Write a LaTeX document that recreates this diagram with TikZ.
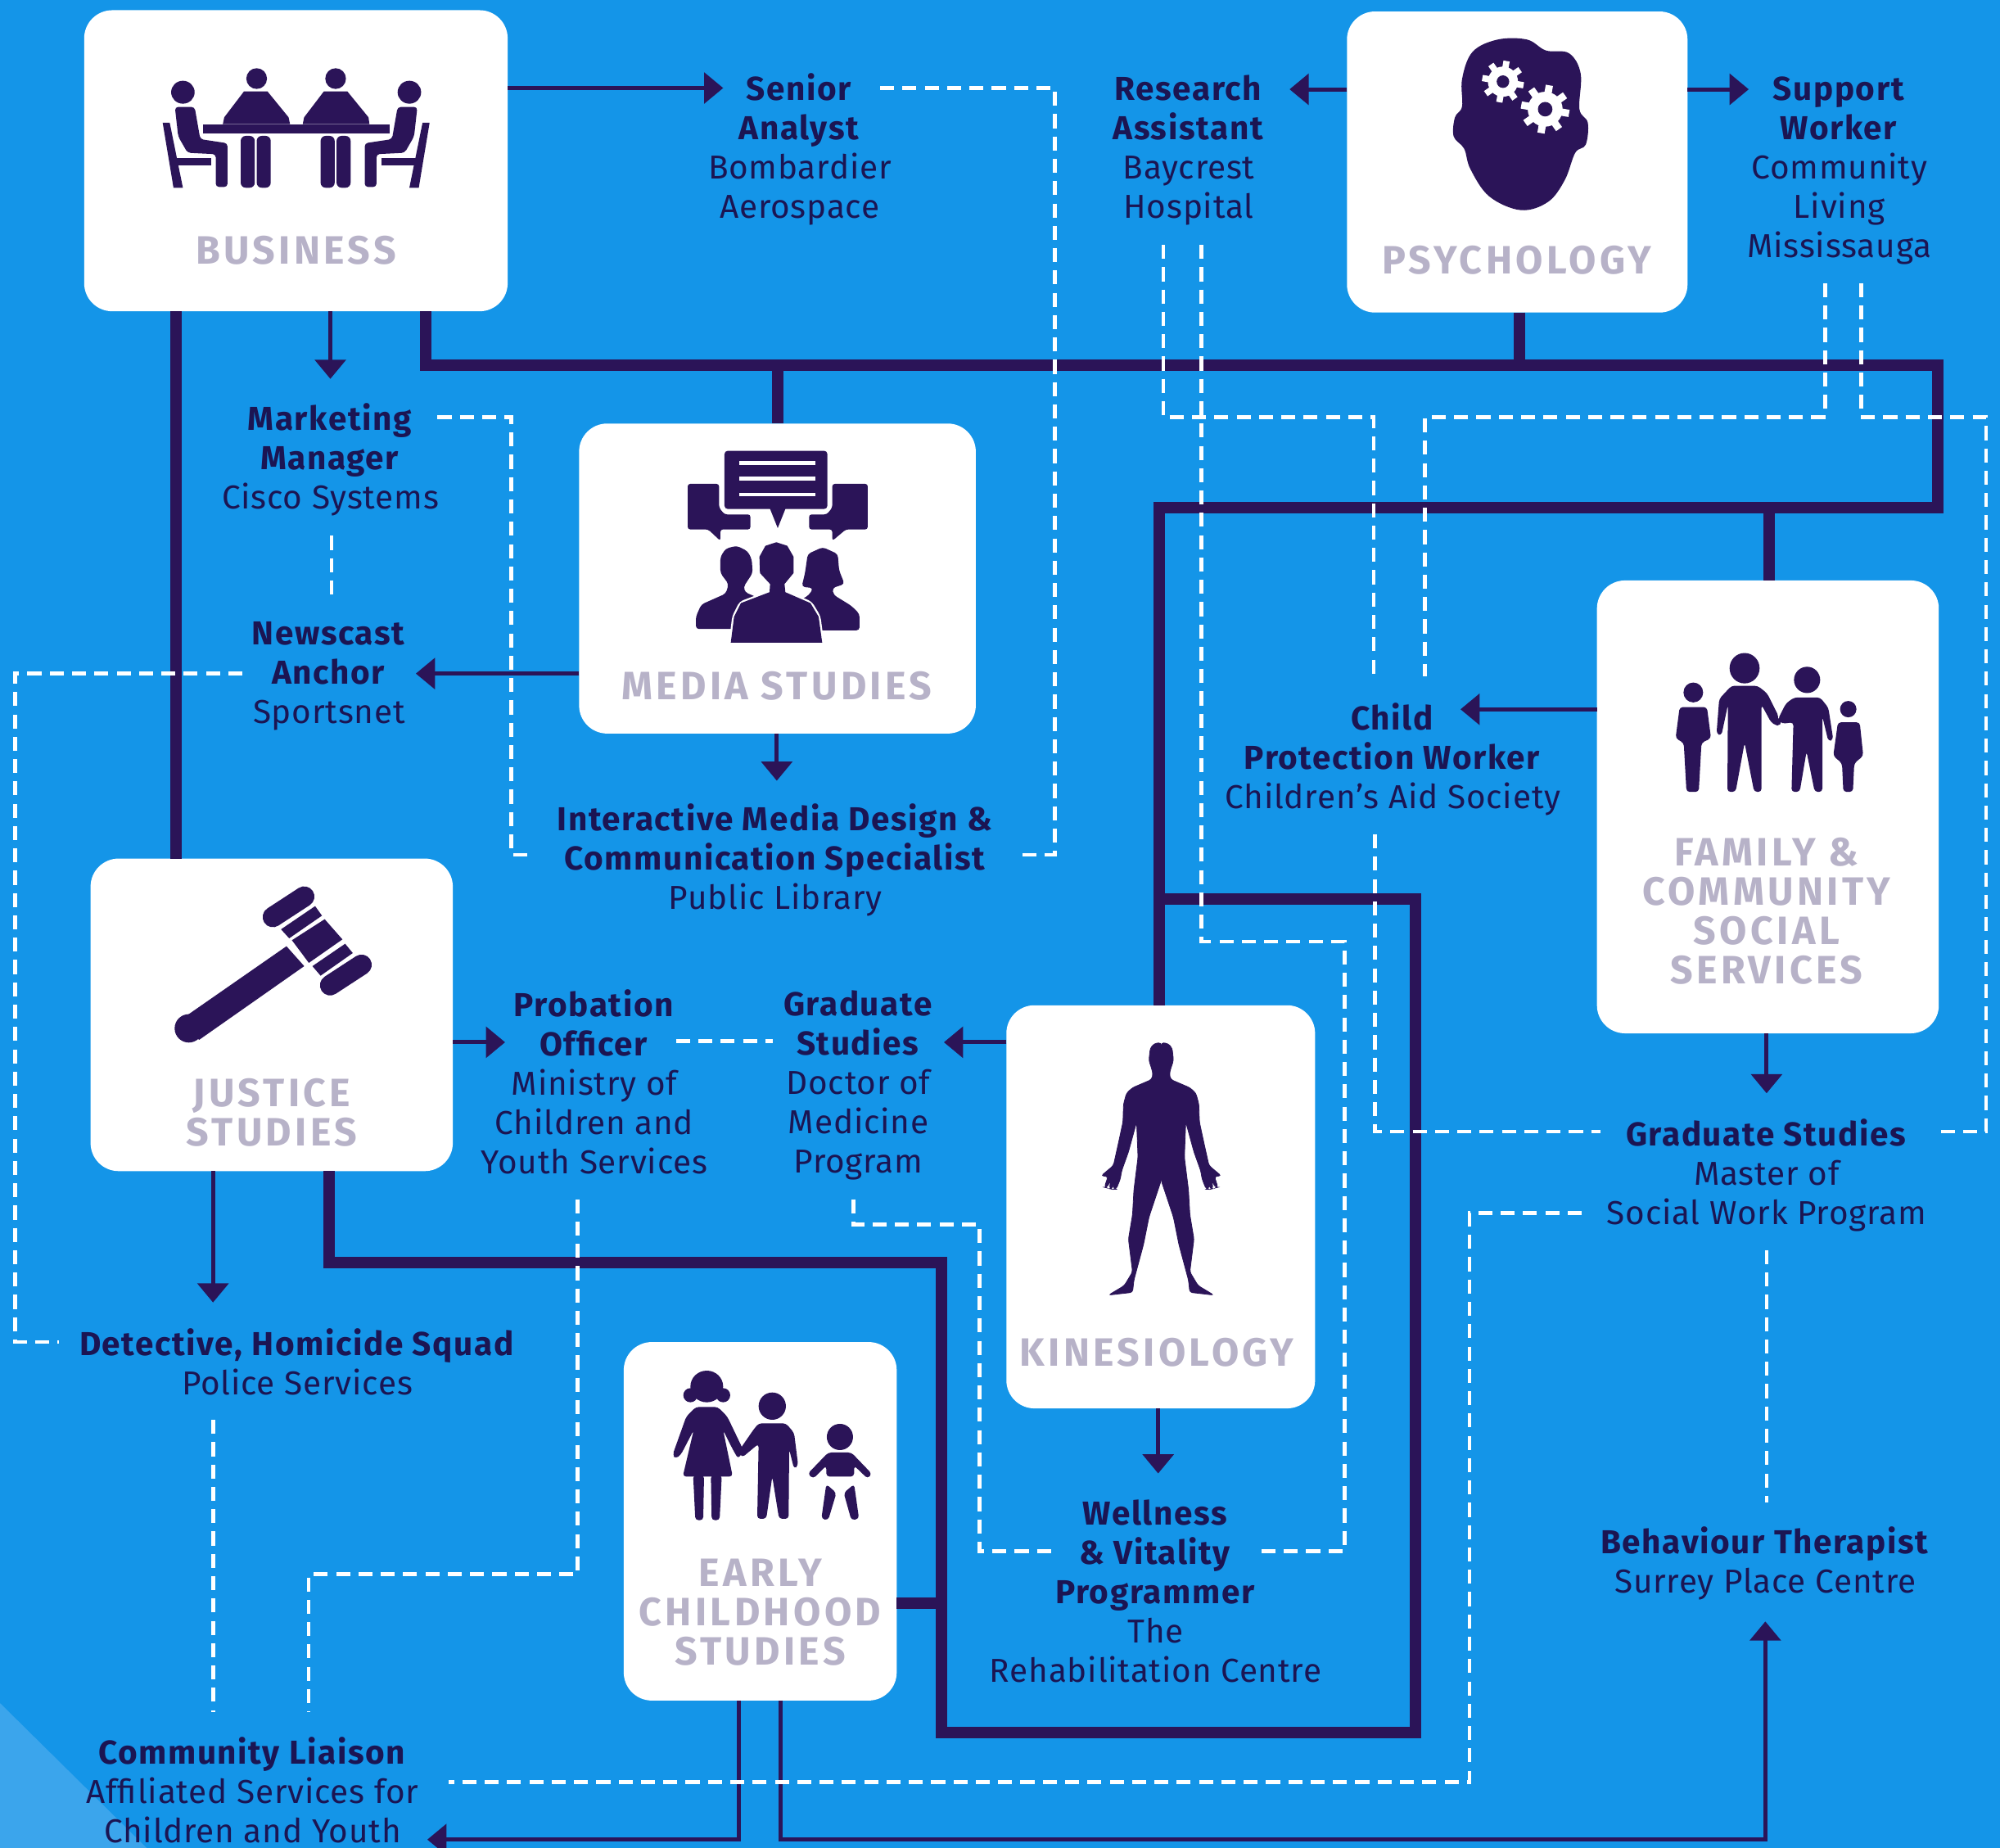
\documentclass[tikz,border=0pt]{standalone}
\usepackage{fontspec}
\setmainfont[LetterSpace=2,BoldFeatures={LetterSpace=4}]{Fira Sans}
\newfontfamily\boxf[LetterSpace=9]{Fira Sans}
\usetikzlibrary{arrows.meta}
\definecolor{bgblue}{HTML}{1495E8}
\definecolor{lightblue}{HTML}{3BA5EC}
\definecolor{ink}{HTML}{2B1458}
\definecolor{txt}{HTML}{1B1553}
\definecolor{boxlab}{HTML}{B7B2C8}
\tikzset{
  thickln/.style={ink,line width=9pt,line join=miter},
  thinln/.style={ink,line width=3.2pt,-{Triangle[length=15pt,width=24pt]}},
  dashln/.style={white,line width=3pt,dash pattern=on 11pt off 6.5pt},
  cardbox/.style={rectangle,fill=white,rounded corners=22pt,inner sep=0pt,outer sep=0pt},
  joblab/.style={align=center,text=txt,inner sep=0pt,font=\fontsize{26}{30.8}\selectfont},
  cardlab/.style={align=center,text=boxlab,inner sep=0pt,font=\boxf\bfseries\fontsize{31}{30.8}\selectfont},
  ico/.style={fill=ink,draw=none},
  icor/.style={fill=ink,draw=none,rounded corners=2.5pt},
}
\newcommand{\gearicon}[3]{%
  \begin{scope}[shift={(#1,#2)}]
    \fill[white] (0,0) circle (0.72*#3);
    \foreach \a in {10,55,...,325} \draw[white,line width=0.3*#3 pt] (\a:0.6*#3) -- (\a:#3);
    \fill[ink] (0,0) circle (0.3*#3);
  \end{scope}}
\newcommand{\bizside}{%
  \fill[ico] (215,338) ellipse [x radius=25,y radius=42];
  \fill[icor] (198,392) -- (240,392) -- (252,510) -- (310,525) -- (310,685) -- (285,685) -- (285,565) -- (225,560) -- (205,500) -- cycle;
  \fill[ico] (172,450) -- (187,450) -- (215,688) -- (195,688) -- cycle;
  \fill[ico] (200,580) rectangle (275,605);
}
\newcommand{\kinhalf}{%
  \fill[icor,rounded corners=2pt,draw=ink,line width=0.5pt] (595,160) -- (620,163) -- (635,180) -- (640,225) -- (630,255) -- (625,275) -- (630,295) -- (700,325) -- (722,345) -- (733,385) -- (735,450) -- (750,520) -- (770,610) -- (815,648) -- (790,650) -- (803,690) -- (795,692) -- (780,665) -- (785,695) -- (775,697) -- (768,668) -- (770,697) -- (760,697) -- (745,660) -- (740,630) -- (715,560) -- (685,450) -- (680,580) -- (695,700) -- (700,790) -- (715,880) -- (700,1000) -- (730,1050) -- (788,1085) -- (700,1075) -- (695,1030) -- (660,900) -- (640,800) -- (595,665) -- cycle;
}
\begin{document}
\begin{tikzpicture}[x=1pt,y=-1pt]
\useasboundingbox (0,0) rectangle (1568,1448.6);
\fill[bgblue] (0,0) rectangle (1568,1448.6);
\fill[lightblue] (0,1335) -- (115,1448.6) -- (0,1448.6) -- cycle;

% cards
\node[cardbox,minimum width=332pt,minimum height=236pt] (biz) at (232,126) {};
\node[cardbox,minimum width=267pt,minimum height=236pt] (psy) at (1189.5,127) {};
\node[cardbox,minimum width=311pt,minimum height=243pt] (med) at (609.5,453.5) {};
\node[cardbox,minimum width=268pt,minimum height=355pt] (fam) at (1386,632.5) {};
\node[cardbox,minimum width=284pt,minimum height=245pt] (jus) at (213,795.5) {};
\node[cardbox,minimum width=242pt,minimum height=316pt] (kin) at (910,946) {};
\node[cardbox,minimum width=214pt,minimum height=281pt] (ear) at (596,1192.5) {};

% job labels
\node[joblab] (senior) at (627,117) {\textbf{Senior}\\\textbf{Analyst}\\Bombardier\\Aerospace};
\node[joblab] (research) at (932,118) {\textbf{Research}\\\textbf{Assistant}\\Baycrest\\Hospital};
\node[joblab] (support) at (1442,134) {\textbf{Support}\\\textbf{Worker}\\Community\\Living\\Mississauga};
\node[joblab] (market) at (259,360.5) {\textbf{Marketing}\\\textbf{Manager}\\Cisco Systems};
\node[joblab] (news) at (258,530) {\textbf{Newscast}\\\textbf{Anchor}\\Sportsnet};
\node[joblab] (imd) at (608,674) {\textbf{Interactive Media Design \&}\\\textbf{Communication Specialist}\\Public Library};
\node[joblab] (child) at (1092,595) {\textbf{Child}\\\textbf{Protection Worker}\\Children's Aid Society};
\node[joblab] (prob) at (466,848) {\textbf{Probation}\\\textbf{Officer}\\Ministry of\\Children and\\Youth Services};
\node[joblab] (gdoc) at (673,851) {\textbf{Graduate}\\\textbf{Studies}\\Doctor of\\Medicine\\Program};
\node[joblab] (gsw) at (1385,921) {\textbf{Graduate Studies}\\Master of\\Social Work Program};
\node[joblab] (det) at (233,1067.5) {\textbf{Detective, Homicide Squad}\\Police Services};
\node[joblab] (well) at (906,1247) {\textbf{Wellness}\\\textbf{\& Vitality}\\\textbf{Programmer}\\The\\Rehabilitation Centre};
\node[joblab] (beh) at (1384,1225.5) {\textbf{Behaviour Therapist}\\Surrey Place Centre};
\node[joblab] (liaison) at (198,1403) {\textbf{Community Liaison}\\Affiliated Services for\\Children and Youth};

% connector end points
\coordinate (aSenior) at (567,69);
\coordinate (aMarket) at (259,297);
\coordinate (aResearch) at (1011,70);
\coordinate (aSupport) at (1371,70);
\coordinate (aNews) at (326,528);
\coordinate (aImd) at (609,612);
\coordinate (aChild) at (1145,556);
\coordinate (aGsw) at (1385,857);
\coordinate (aProb) at (396,817);
\coordinate (aDet) at (167,1021);
\coordinate (aGdoc) at (740,817);
\coordinate (aWell) at (908,1155);
\coordinate (aLiaison) at (335,1442);
\coordinate (aBeh) at (1384,1271);

% thick connectors
\draw[thickln] (biz.south -| 138,0) -- (jus.north -| 138,0);
\draw[thickln] (biz.south -| 334,0) -- (334,286) -- (1519,286) -- (1519,398) -- (909,398) -- (kin.north -| 909,0);
\draw[thickln] (610,286) -- (med.north -| 610,0);
\draw[thickln] (psy.south -| 1191,0) -- (1191,286);
\draw[thickln] (1387,398) -- (fam.north -| 1387,0);
\draw[thickln] (909,705) -- (1110,705) -- (1110,1358) -- (738,1358) -- (738,990) -- (258,990) -- (jus.south -| 258,0);
\draw[thickln] (ear.east |- 0,1257) -- (738,1257);

% thin arrows
\draw[thinln] (biz.east |- aSenior) -- (aSenior);
\draw[thinln] (biz.south -| aMarket) -- (aMarket);
\draw[thinln] (psy.west |- aResearch) -- (aResearch);
\draw[thinln] (psy.east |- aSupport) -- (aSupport);
\draw[thinln] (med.west |- aNews) -- (aNews);
\draw[thinln] (med.south -| aImd) -- (aImd);
\draw[thinln] (fam.west |- aChild) -- (aChild);
\draw[thinln] (fam.south -| aGsw) -- (aGsw);
\draw[thinln] (jus.east |- aProb) -- (aProb);
\draw[thinln] (jus.south -| aDet) -- (aDet);
\draw[thinln] (kin.west |- aGdoc) -- (aGdoc);
\draw[thinln] (kin.south -| aWell) -- (aWell);
\draw[thinln] (ear.south -| 579,0) -- (579,1442) -- (aLiaison);
\draw[thinln] (ear.south -| 612,0) -- (612,1442) -- (1384,1442) -- (aBeh);

% dashed links
\draw[dashln] (690,69) -- (827,69) -- (827,670) -- (797,670);
\draw[dashln] (343,327) -- (401,327) -- (401,670) -- (420,670);
\draw[dashln] (260,420) -- (260,467);
\draw[dashln] (190,528) -- (12,528) -- (12,1052) -- (46,1052);
\draw[dashln] (912,192) -- (912,327) -- (1077,327) -- (1077,530);
\draw[dashln] (942,192) -- (942,738) -- (1054,738) -- (1054,1216) -- (987,1216);
\draw[dashln] (1431,222) -- (1431,327) -- (1117,327) -- (1117,530);
\draw[dashln] (1459,222) -- (1459,327) -- (1557,327) -- (1557,887) -- (1518,887);
\draw[dashln] (1078,654) -- (1078,887) -- (1255,887);
\draw[dashln] (530,816) -- (606,816);
\draw[dashln] (669,940) -- (669,960) -- (768,960) -- (768,1216) -- (827,1216);
\draw[dashln] (453,940) -- (453,1234) -- (242,1234) -- (242,1342);
\draw[dashln] (167,1113) -- (167,1342);
\draw[dashln] (1240,951) -- (1152,951) -- (1152,1397) -- (352,1397);
\draw[dashln] (1385,980) -- (1385,1178);

% card labels
\node[cardlab] (lbiz) at (232,196) {BUSINESS};
\node[cardlab] (lpsy) at (1189,204) {PSYCHOLOGY};
\node[cardlab] (lmed) at (609,538) {MEDIA STUDIES};
\node[cardlab] (lfam) at (1385,714) {FAMILY \&\\COMMUNITY\\SOCIAL\\SERVICES};
\node[cardlab] (ljus) at (213,872) {JUSTICE\\STUDIES};
\node[cardlab] (lkin) at (907,1060) {KINESIOLOGY};
\node[cardlab] (lear) at (596,1264) {EARLY\\CHILDHOOD\\STUDIES};

% icon: business
\begin{scope}[shift={(64.18,0)},x=0.3684pt,y=-0.2139pt]
  \bizside
  \begin{scope}[shift={(912,0)},xscale=-1]\bizside\end{scope}
  \fill[ico] (372,288) ellipse [x radius=22,y radius=38];
  \fill[ico] (540,288) ellipse [x radius=22,y radius=38];
  \fill[ico] (345,335) -- (395,335) -- (440,430) -- (443,455) -- (300,455) -- (303,430) -- cycle;
  \fill[ico] (515,335) -- (565,335) -- (610,430) -- (612,455) -- (470,455) -- (473,430) -- cycle;
  \fill[ico] (258,455) rectangle (655,490);
  \fill[icor,rounded corners=4pt] (338,498) rectangle (368,688);
  \fill[icor,rounded corners=4pt] (372,498) rectangle (402,688);
  \fill[icor,rounded corners=4pt] (508,498) rectangle (538,688);
  \fill[icor,rounded corners=4pt] (542,498) rectangle (572,688);
\end{scope}

% icon: psychology
\begin{scope}[shift={(1052.6,0)},x=0.3286pt,y=-0.2139pt]
  \fill[ico] plot[smooth cycle,tension=0.6] coordinates {(425,770) (350,720) (305,620) (290,545) (265,500) (268,430) (285,390) (285,290) (310,190) (370,145) (440,145) (485,185) (540,195) (568,270) (565,400) (585,450) (580,530) (555,560) (530,660) (490,740)};
\end{scope}
\gearicon{1178.3}{64}{16.4}
\gearicon{1211.4}{85.6}{19}

% icon: media
\begin{scope}[shift={(449.3,327.3)},x=0.2139pt,y=-0.2139pt]
  \fill[icor] (555,122) rectangle (932,335);
  \fill[ico] (720,330) -- (780,330) -- (750,405) -- cycle;
  \draw[white,line width=3pt] (610,167) -- (888,167) (610,224) -- (888,224) (610,282) -- (888,282);
  \fill[icor,rounded corners=2pt] (420,243) -- (535,243) -- (535,330) -- (555,355) -- (650,355) -- (650,410) -- (540,410) -- (540,452) -- (495,410) -- (420,410) -- cycle;
  \fill[icor,rounded corners=2pt] (1080,243) -- (950,243) -- (950,330) -- (930,355) -- (865,355) -- (865,410) -- (950,410) -- (950,452) -- (1000,410) -- (1080,410) -- cycle;
  \fill[icor] (450,775) -- (450,730) -- (470,685) -- (560,645) -- (570,610) -- (540,570) -- (540,510) -- (560,480) -- (600,470) -- (640,490) -- (655,520) -- (658,570) -- (625,620) -- (630,640) -- (700,670) -- (640,775) -- cycle;
  \fill[icor] (915,475) -- (860,500) -- (850,570) -- (838,620) -- (880,625) -- (865,650) -- (800,690) -- (860,780) -- (1050,780) -- (1050,720) -- (1020,690) -- (955,650) -- (950,625) -- (995,610) -- (975,560) -- (970,500) -- cycle;
  \filldraw[draw=white,fill=ink,line width=3pt,rounded corners=2.5pt] (578,828) -- (590,730) -- (615,680) -- (720,640) -- (722,610) -- (685,570) -- (683,510) -- (705,470) -- (745,457) -- (785,470) -- (808,510) -- (808,570) -- (775,610) -- (778,640) -- (870,680) -- (900,730) -- (913,828) -- cycle;
  \fill[ico] (578,825) -- (590,730) -- (615,680) -- (720,640) -- (722,610) -- (685,570) -- (683,510) -- (705,470) -- (745,457) -- (785,470) -- (808,510) -- (808,570) -- (775,610) -- (778,640) -- (870,680) -- (900,730) -- (913,825) -- cycle;
\end{scope}

% icon: family
\begin{scope}[shift={(1251.6,449.3)},x=0.2139pt,y=-0.2292pt]
  \fill[ico] (355,408) ellipse [x radius=36,y radius=34];
  \fill[icor] (305,458) -- (405,458) -- (420,565) -- (385,580) -- (375,748) -- (330,748) -- (320,580) -- (290,565) -- cycle;
  \fill[ico] (543,325) ellipse [x radius=55,y radius=52];
  \fill[icor] (495,385) -- (590,385) -- (625,410) -- (668,490) -- (660,522) -- (640,510) -- (605,450) -- (605,748) -- (578,748) -- (543,580) -- (510,748) -- (480,748) -- (482,450) -- (458,555) -- (440,550) -- (450,430) -- cycle;
  \fill[ico] (772,365) ellipse [x radius=48,y radius=45];
  \fill[icor] (725,425) -- (820,425) -- (850,460) -- (868,570) -- (850,575) -- (828,490) -- (828,748) -- (800,748) -- (770,610) -- (745,748) -- (715,748) -- (722,510) -- (680,515) -- (665,500) -- (695,445) -- cycle;
  \fill[ico] (663,508) ellipse [x radius=14,y radius=13];
  \fill[ico] (923,465) ellipse [x radius=30,y radius=28];
  \fill[icor] (885,510) -- (965,510) -- (978,625) -- (945,650) -- (940,748) -- (905,748) -- (900,650) -- (868,625) -- cycle;
\end{scope}

% icon: justice
\begin{scope}[shift={(64.18,667.5)},x=0.2139pt,y=-0.2139pt]
  \fill[ico] (750,347) -- (815,420) -- (430,690) -- (350,625) -- cycle;
  \fill[ico] (392,648) circle (52);
  \draw[ink,line width=16pt,line cap=round] (700,240) -- (815,165);
  \draw[ink,line width=16pt,line cap=round] (910,490) -- (1025,415);
  \fill[ico] (730,285) -- (855,200) -- (880,235) -- (760,318) -- cycle;
  \fill[ico] (770,325) -- (890,248) -- (955,322) -- (832,408) -- cycle;
  \fill[ico] (845,420) -- (965,338) -- (993,372) -- (875,455) -- cycle;
\end{scope}

% icon: kinesiology
\begin{scope}[shift={(783.1,783.1)},x=0.2139pt,y=-0.2139pt]
  \kinhalf
  \begin{scope}[shift={(1190,0)},xscale=-1]\kinhalf\end{scope}
\end{scope}

% icon: early childhood
\begin{scope}[shift={(487.8,1052.6)},x=0.2139pt,y=-0.2139pt]
  \fill[ico] (310,160) ellipse [x radius=60,y radius=58];
  \fill[ico] (250,192) circle (26);
  \fill[ico] (370,192) circle (26);
  \fill[icor] (270,235) -- (350,235) -- (385,270) -- (445,395) -- (425,425) -- (405,390) -- (370,320) -- (405,490) -- (222,490) -- (262,320) -- (215,410) -- (195,425) -- (185,410) -- (235,270) -- cycle;
  \fill[icor] (260,485) -- (300,485) -- (297,650) -- (268,650) -- cycle;
  \fill[icor] (325,485) -- (365,485) -- (357,650) -- (328,650) -- cycle;
  \fill[ico] (550,232) circle (50);
  \fill[icor] (500,295) -- (600,295) -- (630,330) -- (645,450) -- (630,462) -- (612,390) -- (610,645) -- (575,645) -- (550,490) -- (528,645) -- (495,645) -- (500,370) -- (440,420) -- (425,400) -- (480,320) -- cycle;
  \fill[ico] (798,345) circle (48);
  \fill[icor] (755,402) -- (840,402) -- (915,480) -- (900,498) -- (850,450) -- (850,490) -- (748,490) -- (748,450) -- (700,498) -- (680,480) -- cycle;
  \fill[icor] (748,518) -- (785,550) -- (755,650) -- (730,645) -- cycle;
  \fill[icor] (850,518) -- (812,550) -- (840,650) -- (868,645) -- cycle;
\end{scope}
\end{tikzpicture}
\end{document}
